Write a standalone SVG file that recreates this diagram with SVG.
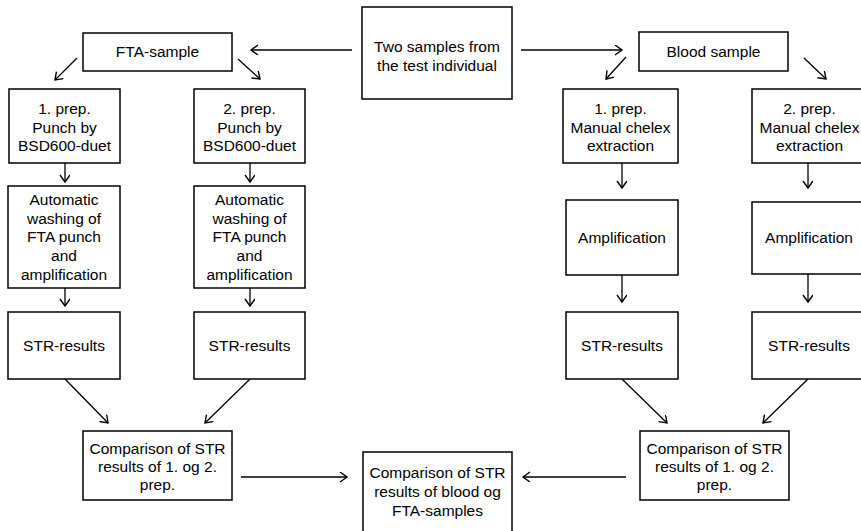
<svg xmlns="http://www.w3.org/2000/svg" width="861" height="531" viewBox="0 0 861 531">
<style>
.box{fill:#fff;stroke:#000;stroke-width:1.5}
.t{font-family:"Liberation Sans",Arial,sans-serif;font-size:15.5px;fill:#000;text-anchor:middle}
.c{stroke:#000;stroke-width:1.3;fill:none;marker-end:url(#ah)}
</style>
<defs>
<marker id="ah" markerUnits="userSpaceOnUse" markerWidth="12" markerHeight="12" refX="9" refY="5" orient="auto">
<path d="M2,0 L9,5 L2,10" fill="none" stroke="#000" stroke-width="1.4"/>
</marker>
</defs>
<rect width="861" height="531" fill="#fff"/>
<g id="connectors">
<line class="c" x1="352" y1="50" x2="251" y2="50"/>
<line class="c" x1="521" y1="50" x2="622" y2="50"/>
<line class="c" x1="77" y1="58" x2="55" y2="80"/>
<line class="c" x1="238" y1="59" x2="260" y2="79"/>
<line class="c" x1="626" y1="57" x2="606" y2="79"/>
<line class="c" x1="804" y1="58" x2="826" y2="79"/>
<line class="c" x1="65" y1="163" x2="65" y2="182"/>
<line class="c" x1="250" y1="163" x2="250" y2="182"/>
<line class="c" x1="622" y1="163" x2="622" y2="188"/>
<line class="c" x1="808" y1="163" x2="808" y2="188"/>
<line class="c" x1="65" y1="288" x2="65" y2="306"/>
<line class="c" x1="250" y1="288" x2="250" y2="306"/>
<line class="c" x1="622" y1="275" x2="622" y2="302"/>
<line class="c" x1="808" y1="274" x2="808" y2="302"/>
<line class="c" x1="65" y1="379" x2="108" y2="423"/>
<line class="c" x1="250" y1="379" x2="205" y2="423"/>
<line class="c" x1="622" y1="379" x2="667" y2="423"/>
<line class="c" x1="808" y1="379" x2="763" y2="423"/>
<line class="c" x1="241" y1="477" x2="347" y2="477"/>
<line class="c" x1="626" y1="477" x2="523" y2="477"/>
</g>
<g id="n-two"><rect class="box" x="362" y="7" width="150" height="92"/><text class="t" x="437" y="52">Two samples from</text><text class="t" x="437" y="70.5">the test individual</text></g>
<g id="n-fta"><rect class="box" x="83" y="33" width="149" height="38"/><text class="t" x="157.5" y="57">FTA-sample</text></g>
<g id="n-blood"><rect class="box" x="639" y="32" width="149" height="39"/><text class="t" x="713.5" y="57">Blood sample</text></g>
<g id="n-fta-p1"><rect class="box" x="9" y="89" width="111" height="74"/><text class="t" x="64.5" y="114">1. prep.</text><text class="t" x="64.5" y="132.5">Punch by</text><text class="t" x="64.5" y="151">BSD600-duet</text></g>
<g id="n-fta-p2"><rect class="box" x="194" y="89" width="111" height="74"/><text class="t" x="249.5" y="114">2. prep.</text><text class="t" x="249.5" y="132.5">Punch by</text><text class="t" x="249.5" y="151">BSD600-duet</text></g>
<g id="n-bl-p1"><rect class="box" x="563" y="89" width="115" height="74"/><text class="t" x="620.5" y="114">1. prep.</text><text class="t" x="620.5" y="132.5">Manual chelex</text><text class="t" x="620.5" y="151">extraction</text></g>
<g id="n-bl-p2"><rect class="box" x="752" y="89" width="115" height="74"/><text class="t" x="809.5" y="114">2. prep.</text><text class="t" x="809.5" y="132.5">Manual chelex</text><text class="t" x="809.5" y="151">extraction</text></g>
<g id="n-fta-w1"><rect class="box" x="8" y="186" width="112" height="102"/><text class="t" x="64" y="205">Automatic</text><text class="t" x="64" y="223.5">washing of</text><text class="t" x="64" y="242">FTA punch</text><text class="t" x="64" y="261">and</text><text class="t" x="64" y="280">amplification</text></g>
<g id="n-fta-w2"><rect class="box" x="194" y="186" width="111" height="102"/><text class="t" x="249.5" y="205">Automatic</text><text class="t" x="249.5" y="223.5">washing of</text><text class="t" x="249.5" y="242">FTA punch</text><text class="t" x="249.5" y="261">and</text><text class="t" x="249.5" y="280">amplification</text></g>
<g id="n-bl-a1"><rect class="box" x="566" y="200" width="112" height="75"/><text class="t" x="622" y="243">Amplification</text></g>
<g id="n-bl-a2"><rect class="box" x="752" y="202" width="115" height="72"/><text class="t" x="809" y="243">Amplification</text></g>
<g id="n-fta-s1"><rect class="box" x="8" y="312" width="112" height="67"/><text class="t" x="64" y="350.5">STR-results</text></g>
<g id="n-fta-s2"><rect class="box" x="194" y="312" width="111" height="67"/><text class="t" x="249.5" y="350.5">STR-results</text></g>
<g id="n-bl-s1"><rect class="box" x="566" y="312" width="112" height="67"/><text class="t" x="622" y="350.5">STR-results</text></g>
<g id="n-bl-s2"><rect class="box" x="752" y="312" width="115" height="67"/><text class="t" x="809" y="350.5">STR-results</text></g>
<g id="n-cmp-fta"><rect class="box" x="83" y="431" width="149" height="69"/><text class="t" x="157.5" y="453.5">Comparison of STR</text><text class="t" x="157.5" y="471.5">results of 1. og 2.</text><text class="t" x="157.5" y="489.5">prep.</text></g>
<g id="n-cmp-bl"><rect class="box" x="640" y="431" width="149" height="69"/><text class="t" x="714.5" y="453.5">Comparison of STR</text><text class="t" x="714.5" y="471.5">results of 1. og 2.</text><text class="t" x="714.5" y="489.5">prep.</text></g>
<g id="n-final"><rect class="box" x="363" y="452" width="149" height="90"/><text class="t" x="437.5" y="478">Comparison of STR</text><text class="t" x="437.5" y="497">results of blood og</text><text class="t" x="437.5" y="516">FTA-samples</text></g>
</svg>
